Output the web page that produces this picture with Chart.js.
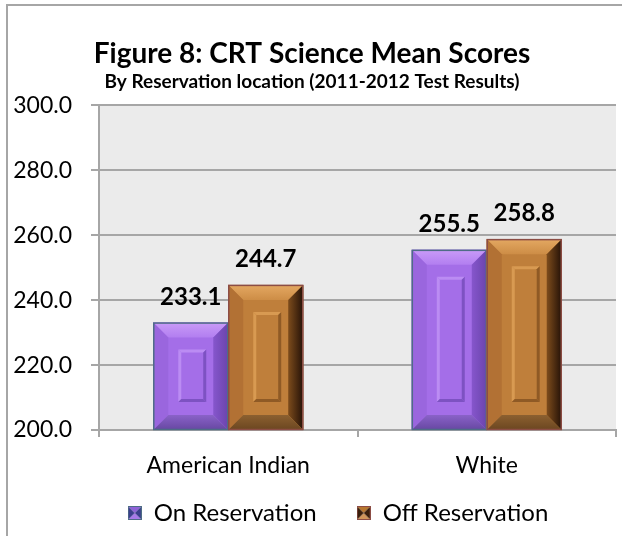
<!DOCTYPE html>
<html>
<head>
<meta charset="utf-8">
<script src="https://cdn.jsdelivr.net/npm/chart.js@4/dist/chart.umd.min.js"></script>
<style>
  html, body { margin: 0; padding: 0; background: #fff; }
  canvas { display: block; }
</style>
</head>
<body>
<canvas id="chart" width="622" height="536"></canvas>
<script>
const categories = ["American Indian", "White"];
const seriesNames = ["On Reservation", "Off Reservation"];
const onReservation = [233.1, 255.5];
const offReservation = [244.7, 258.8];
const yTicks = [200, 220, 240, 260, 280, 300];

const FONT = "Lato, 'Open Sans', sans-serif";

// bevel palettes for each series
const skins = [
  {
    face: "#a46ee8", topA: "#c99bf8", topB: "#b27ef0", left: "#9a66de",
    rightA: "#8656cc", rightB: "#6a44ac", bottomA: "#8a62c8", bottomB: "#6647a2",
    light: "#bb8cf3", dark: "#7d52c2", outline: "#4e6c86",
    swatchSide: "#3b3f8c", swatchTop: "#8f62d8", swatchBottom: "#a77ae8"
  },
  {
    face: "#bf7f3b", topA: "#e4a862", topB: "#cd8d46", left: "#b27134",
    rightA: "#7d4c1c", rightB: "#241107", bottomA: "#8c6030", bottomB: "#6b4620",
    light: "#d89a52", dark: "#8f5a25", outline: "#8c4d45",
    swatchSide: "#3a1f0c", swatchTop: "#b8772f", swatchBottom: "#d0955a"
  }
];

function poly(ctx, pts, fill) {
  ctx.beginPath();
  ctx.moveTo(pts[0][0], pts[0][1]);
  for (let i = 1; i < pts.length; i++) ctx.lineTo(pts[i][0], pts[i][1]);
  ctx.closePath();
  ctx.fillStyle = fill;
  ctx.fill();
}

function drawBevelBar(ctx, L, T, R, B, s) {
  const b = Math.min(15, (B - T) / 2, (R - L) / 2);
  ctx.save();
  ctx.fillStyle = s.face;
  ctx.fillRect(L, T, R - L, B - T);

  let g = ctx.createLinearGradient(0, T, 0, T + b);
  g.addColorStop(0, s.topA); g.addColorStop(1, s.topB);
  poly(ctx, [[L, T], [R, T], [R - b, T + b], [L + b, T + b]], g);

  poly(ctx, [[L, T], [L + b, T + b], [L + b, B - b], [L, B]], s.left);

  g = ctx.createLinearGradient(R - b, 0, R, 0);
  g.addColorStop(0, s.rightA); g.addColorStop(1, s.rightB);
  poly(ctx, [[R, T], [R, B], [R - b, B - b], [R - b, T + b]], g);

  g = ctx.createLinearGradient(0, B - b, 0, B);
  g.addColorStop(0, s.bottomA); g.addColorStop(1, s.bottomB);
  poly(ctx, [[L, B], [R, B], [R - b, B - b], [L + b, B - b]], g);

  // raised inner panel
  const pl = L + 25, pr = R - 22, pt = T + 27, pb = B - 28;
  if (pb - pt > 8) {
    const e = 3;
    poly(ctx, [[pl, pt], [pr, pt], [pr - e, pt + e], [pl + e, pt + e]], s.light);
    poly(ctx, [[pl, pt], [pl + e, pt + e], [pl + e, pb - e], [pl, pb]], s.light);
    poly(ctx, [[pr, pt], [pr, pb], [pr - e, pb - e], [pr - e, pt + e]], s.dark);
    poly(ctx, [[pl, pb], [pr, pb], [pr - e, pb - e], [pl + e, pb - e]], s.dark);
  }

  ctx.strokeStyle = s.outline;
  ctx.lineWidth = 1.5;
  ctx.strokeRect(L + 0.5, T + 0.5, R - L - 1, B - T - 1);
  ctx.restore();
}

// small pyramid swatch used as the legend marker
function makeSwatch(s) {
  const c = document.createElement("canvas");
  const n = 14;
  c.width = n; c.height = n;
  const x = c.getContext("2d");
  const m = n / 2;
  poly(x, [[0, 0], [n, 0], [m, m]], s.swatchTop);
  poly(x, [[0, n], [n, n], [m, m]], s.swatchBottom);
  poly(x, [[0, 0], [m, m], [0, n]], s.swatchSide);
  poly(x, [[n, 0], [m, m], [n, n]], s.swatchSide);
  x.strokeStyle = s.outline;
  x.lineWidth = 1;
  x.strokeRect(0.5, 0.5, n - 1, n - 1);
  return c;
}
const swatches = skins.map(makeSwatch);

const bevelBars = {
  id: "bevelBars",
  afterLayout(chart) {
    // the legend row sits a bit right of centre and closer to the axis labels
    const lg = chart.legend;
    lg.left += 26;
    lg.right += 26;
    lg.top -= 19;
  },
  beforeDraw(chart) {
    const { ctx, chartArea: a } = chart;
    ctx.save();
    ctx.fillStyle = "#ebebeb";
    ctx.fillRect(a.left, a.top, a.right - a.left, a.bottom - a.top);
    // outer frame of the figure
    ctx.strokeStyle = "#a6a6a6";
    ctx.lineWidth = 2;
    ctx.beginPath();
    ctx.moveTo(7, chart.height);
    ctx.lineTo(7, 5);
    ctx.lineTo(chart.width, 5);
    ctx.stroke();
    ctx.restore();
  },
  afterDatasetsDraw(chart) {
    const ctx = chart.ctx;
    const bottom = chart.chartArea.bottom;
    chart.data.datasets.forEach((ds, i) => {
      chart.getDatasetMeta(i).data.forEach((bar, j) => {
        const L = bar.x - bar.width / 2, R = bar.x + bar.width / 2;
        drawBevelBar(ctx, L, bar.y, R, Math.min(bar.base, bottom), skins[i]);
        ctx.save();
        ctx.font = "bold 24px " + FONT;
        ctx.fillStyle = "#000";
        ctx.textAlign = "center";
        ctx.textBaseline = "alphabetic";
        ctx.fillText(ds.data[j].toFixed(1), bar.x, bar.y - 18);
        ctx.restore();
      });
    });
  }
};

new Chart(document.getElementById("chart").getContext("2d"), {
  type: "bar",
  data: {
    labels: categories,
    datasets: [
      { label: seriesNames[0], data: onReservation, backgroundColor: skins[0].face, borderWidth: 0 },
      { label: seriesNames[1], data: offReservation, backgroundColor: skins[1].face, borderWidth: 0 }
    ]
  },
  options: {
    responsive: false,
    animation: false,
    events: [],
    layout: { padding: { left: 8, right: 6, top: 0, bottom: 2 } },
    datasets: { bar: { categoryPercentage: 0.58, barPercentage: 1.0 } },
    scales: {
      x: {
        afterFit: (scale) => { scale.height = 50; },
        grid: { offset: true, drawOnChartArea: false, drawTicks: true, tickLength: 7, color: "#a6a6a6", lineWidth: 2 },
        border: { color: "#a6a6a6", width: 2 },
        ticks: { color: "#000", padding: 15, maxRotation: 0, font: { family: FONT, size: 23 } }
      },
      y: {
        min: 200,
        max: 300,
        afterBuildTicks: (scale) => { scale.ticks = yTicks.map(v => ({ value: v })); },
        afterFit: (scale) => { scale.width = 91; },
        grid: { color: "#a6a6a6", lineWidth: 2, tickLength: 8 },
        border: { color: "#a6a6a6", width: 2 },
        ticks: { color: "#000", padding: 19, font: { family: FONT, size: 23 }, callback: (v) => Number(v).toFixed(1) }
      }
    },
    plugins: {
      title: {
        display: true,
        text: "Figure 8: CRT Science Mean Scores",
        color: "#000",
        font: { family: FONT, size: 28, weight: "bold" },
        padding: { top: 37, bottom: 0 }
      },
      subtitle: {
        display: true,
        text: "By Reservation location (2011-2012 Test Results)",
        color: "#000",
        font: { family: FONT, size: 19, weight: "bold" },
        padding: { top: 0, bottom: 12 }
      },
      legend: {
        position: "bottom",
        maxHeight: 54,
        labels: {
          color: "#000",
          font: { family: FONT, size: 24 },
          usePointStyle: true,
          pointStyleWidth: 14,
          padding: 40,
          generateLabels: (chart) => chart.data.datasets.map((ds, i) => ({
            text: ds.label,
            pointStyle: swatches[i],
            fontColor: "#000",
            datasetIndex: i,
            hidden: false,
            lineWidth: 0
          }))
        }
      },
      tooltip: { enabled: false }
    }
  },
  plugins: [bevelBars]
});
</script>
</body>
</html>
